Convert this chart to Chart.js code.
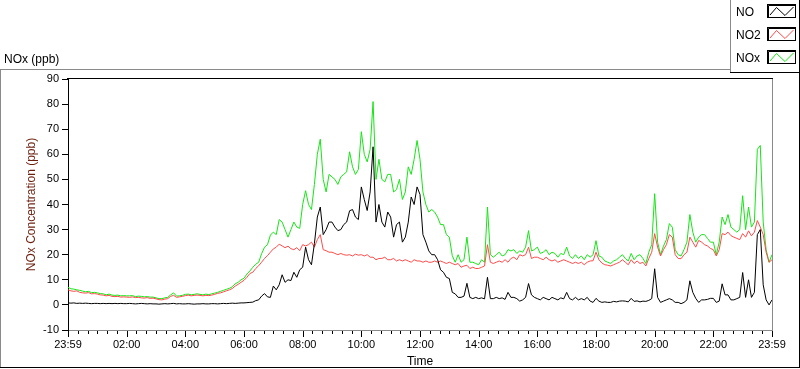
<!DOCTYPE html>
<html>
<head>
<meta charset="utf-8">
<title>NOx (ppb)</title>
<script src="https://cdn.jsdelivr.net/npm/chart.js@4.4.1/dist/chart.umd.min.js"></script>
<style>
  html, body { margin: 0; padding: 0; background: #fff; }
  #grafico { display: block; }
</style>
</head>
<body>
<canvas id="grafico" width="800" height="369"></canvas>
<script>
// one reading every 6 minutes, minute 0 = 23:59 of the previous day
const STEP_MIN = 6;

const seriesLabels = ['NO', 'NO2', 'NOx'];
const seriesColors = ['#000000', '#ff4a4a', '#14e614'];

const yMin = -10;
const yMax = 90;
const yStep = 10;

const xMin = 0;
const xMax = 1440;
const xMinorStep = 20;
const xMajorStep = 120;
const xEdgeLabel = '23:59';

const noValues = [
  0.8, 0.7, 0.8, 0.6, 0.7, 0.6, 0.7, 0.6, 0.5, 0.6,
  0.6, 0.5, 0.6, 0.5, 0.6, 0.5, 0.6, 0.5, 0.6, 0.5,
  0.5, 0.6, 0.5, 0.4, 0.5, 0.6, 0.5, 0.4, 0.5, 0.4,
  0.4, 0.3, 0.4, 0.5, 0.4, 0.5, 0.6, 0.4, 0.5, 0.4,
  0.4, 0.5, 0.4, 0.3, 0.4, 0.4, 0.5, 0.4, 0.4, 0.5,
  0.5, 0.4, 0.5, 0.6, 0.5, 0.6, 0.7, 0.6, 0.7, 0.8,
  0.8, 0.9, 1.0, 1.1, 1.7, 2.0, 3.5, 4.5, 3.2, 3.0,
  7.5, 6.0, 8.0, 12.0, 9.0, 10.0, 9.7, 13.0, 11.0, 14.0,
  15.0, 23.0, 18.0, 16.0, 24.4, 35.0, 39.0, 28.0, 30.0, 33.0,
  33.0, 31.0, 29.6, 30.0, 32.0, 33.0, 37.5, 38.0, 35.0, 34.0,
  47.0, 42.0, 37.6, 45.0, 63.0, 33.0, 40.0, 33.0, 31.0, 37.0,
  35.0, 27.0, 32.0, 33.0, 25.0, 27.0, 33.0, 43.0, 40.0, 47.0,
  44.0, 28.0, 25.0, 21.5, 20.0, 20.0, 18.0, 14.0, 13.0, 11.0,
  10.5, 5.0, 4.4, 3.0, 3.0, 3.5, 8.6, 3.0, 2.5, 3.0,
  2.5, 2.8, 2.4, 11.0, 2.5, 2.5, 3.0, 2.5, 2.8, 2.2,
  5.0, 3.0, 3.0, 2.5, 1.5, 2.0, 3.0, 8.5, 4.0, 3.0,
  2.5, 2.0, 3.0, 2.5, 2.0, 3.0, 2.5, 2.0, 2.8, 2.4,
  5.0, 2.5, 2.0, 3.0, 2.0, 2.5, 2.0, 3.0, 1.5, 1.0,
  2.6, 1.5, 1.0, 1.2, 1.0, 1.0, 1.4, 1.2, 1.5, 1.6,
  1.5, 1.2, 2.6, 1.4, 1.6, 1.2, 1.5, 1.4, 1.8, 2.5,
  14.4, 3.0, 1.0, 1.5, 2.0, 2.5, 2.0, 1.0, 1.0, 0.5,
  1.0, 2.0, 9.6, 5.0, 2.6, 1.0, 2.0, 2.0, 2.2, 2.6,
  2.6, 1.0, 1.5, 8.4, 4.0, 4.0, 2.0, 2.0, 2.5, 3.0,
  12.9, 3.0, 10.0, 3.0, 5.0, 28.0, 30.0, 8.0, 2.0, 0.0,
  2.0
];

const no2Values = [
  6.0, 5.6, 5.4, 5.6, 5.0, 4.8, 4.7, 4.9, 4.4, 4.5,
  4.3, 4.0, 3.9, 3.6, 3.8, 3.4, 3.3, 3.4, 3.1, 3.2,
  3.1, 3.0, 3.2, 2.9, 3.0, 2.8, 2.7, 2.9, 2.6, 2.7,
  2.4, 2.1, 2.0, 2.3, 2.5, 3.4, 3.8, 3.0, 3.2, 3.4,
  3.7, 3.9, 3.6, 3.8, 3.9, 3.8, 3.6, 3.8, 3.7, 3.9,
  4.2, 4.6, 4.8, 5.2, 5.6, 6.0, 6.5, 7.5, 8.2, 9.0,
  9.8, 11.0, 12.5, 13.0, 14.5, 15.6, 17.0, 18.5, 19.6, 21.0,
  22.3, 23.0, 24.2, 23.5, 22.8, 23.4, 22.4, 22.0, 22.8, 21.6,
  24.0, 23.5, 24.0, 25.0, 23.0, 26.0, 28.0, 22.0, 21.6, 21.0,
  21.0, 20.5, 20.0, 20.5, 20.0, 19.8, 20.0, 19.5, 20.2, 19.8,
  20.0, 19.5, 20.0, 19.0, 19.0, 18.0, 18.5, 18.5, 19.0, 18.0,
  18.0, 18.5, 17.5, 18.0, 17.5, 18.0, 17.5, 17.0, 18.0, 17.5,
  17.5, 17.0, 17.5, 17.0, 17.0, 17.5, 17.0, 17.5, 17.0, 16.5,
  17.0, 16.5, 16.0, 16.5, 15.0, 15.5, 15.8, 14.5, 15.0, 14.5,
  14.5, 15.0, 15.5, 24.0, 17.0, 16.5, 17.0, 17.5, 17.0, 18.0,
  17.0, 18.5, 19.0, 18.0, 20.0, 19.5, 20.0, 23.0, 18.5, 19.0,
  19.0, 18.5, 18.0, 19.0, 18.0, 17.5, 18.0, 17.0, 17.5, 18.0,
  17.5, 17.0, 16.5, 17.0, 16.5, 17.0, 16.0, 17.0, 17.5, 17.6,
  21.0, 18.0, 16.7, 16.0, 15.8, 15.5, 16.0, 16.5, 17.0, 18.0,
  17.0, 16.0, 18.0, 16.5, 17.5, 16.5, 17.0, 15.5, 18.5, 21.0,
  28.4, 23.0, 19.5, 22.0, 24.0, 28.0, 27.0, 20.0, 18.5, 18.4,
  20.0, 21.0, 27.0, 25.0, 23.0, 25.7, 25.0, 24.0, 23.5, 22.5,
  22.0, 19.5, 22.0, 28.4, 28.0, 29.0, 27.6, 27.0, 26.5, 26.0,
  28.4, 27.0, 29.5, 27.5, 29.0, 33.6, 31.0, 28.0, 21.0, 17.0,
  18.0
];

const noxValues = [
  7.0, 6.4, 6.3, 6.0, 5.8, 5.5, 5.2, 5.4, 4.9, 5.0,
  4.8, 4.5, 4.4, 4.0, 4.3, 3.9, 3.8, 3.9, 3.6, 3.7,
  3.6, 3.6, 3.7, 3.3, 3.5, 3.4, 3.2, 3.3, 3.1, 3.1,
  2.8, 2.5, 2.5, 2.8, 3.0, 4.0, 4.8, 3.5, 3.6, 3.8,
  4.2, 4.3, 4.0, 4.2, 4.4, 4.2, 4.0, 4.3, 4.1, 4.4,
  4.7, 5.0, 5.4, 5.8, 6.2, 6.6, 7.2, 8.4, 9.0, 10.0,
  10.6, 12.3, 13.5, 15.0, 16.2, 17.0, 20.4, 23.0, 24.0, 27.8,
  29.0, 28.0, 34.0, 33.0, 30.0, 27.0, 30.0, 33.0, 31.0, 30.5,
  40.0, 45.5, 40.0, 38.0, 48.0, 60.0, 66.0, 50.0, 45.0, 52.0,
  51.0, 50.0, 48.0, 51.0, 52.0, 53.0, 61.0, 55.0, 52.0, 54.0,
  69.0, 60.0, 57.0, 62.0, 81.0, 50.0, 58.0, 50.0, 49.0, 52.0,
  52.0, 45.0, 46.0, 50.0, 42.0, 45.0, 55.0, 52.0, 58.0, 65.5,
  58.0, 45.0, 40.0, 37.0, 38.0, 37.0, 35.0, 32.0, 32.0, 28.0,
  27.0, 19.6, 17.0, 20.0, 17.0, 18.0, 27.0, 17.0, 17.0, 16.5,
  16.0, 18.0, 17.0, 39.0, 20.0, 19.0, 20.0, 21.0, 19.5, 20.0,
  22.0, 21.5, 22.0, 20.5, 21.5, 21.0, 23.0, 29.6, 21.5, 22.0,
  23.0, 20.5, 21.0, 22.0, 20.0, 21.0, 20.5, 19.0, 20.5, 20.0,
  23.0, 19.5, 18.5, 20.0, 18.5, 19.5, 18.0, 20.0, 19.0, 20.0,
  25.6, 19.5, 19.0, 17.5, 17.0, 16.5, 17.5, 18.0, 19.0, 20.0,
  18.5, 17.5, 20.5, 18.0, 19.5, 20.0, 18.5, 16.5, 21.0, 24.0,
  44.3, 25.0, 20.0, 23.4, 26.0, 32.4, 31.0, 22.0, 20.0, 19.5,
  22.0, 25.0, 36.0, 29.0, 25.0, 27.0, 28.0, 28.0, 26.5, 25.0,
  25.0, 20.0, 25.0, 35.0, 32.0, 36.0, 31.0, 30.0, 29.0, 30.0,
  43.5, 30.0, 39.0, 31.0, 33.0, 62.0, 63.5, 33.0, 22.0, 17.0,
  20.0
];

const FONTE = '"Liberation Sans", Arial, sans-serif';

function pontos(valores) {
  return valores.map((v, i) => ({ x: i * STEP_MIN, y: v }));
}

function rotuloHora(valor) {
  if (valor === xMin || valor === xMax) return xEdgeLabel;
  if (valor % xMajorStep !== 0) return '';
  return String(valor / 60).padStart(2, '0') + ':00';
}

// moldura do painel, borda do grafico, ticks do eixo X e legenda
const painelPlugin = {
  id: 'painel',
  afterDraw(chart) {
    const ctx = chart.ctx;
    const area = chart.chartArea;
    const xs = chart.scales.x;
    ctx.save();

    ctx.lineWidth = 1;
    ctx.strokeStyle = '#8a8a8a';
    ctx.beginPath();
    ctx.moveTo(0, 69.5); ctx.lineTo(730, 69.5);
    ctx.moveTo(0.5, 69); ctx.lineTo(0.5, 368);
    ctx.moveTo(730.5, 0); ctx.lineTo(730.5, 72);
    ctx.moveTo(area.right + 0.5, area.top - 1); ctx.lineTo(area.right + 0.5, area.bottom);
    ctx.stroke();

    ctx.strokeStyle = '#000';
    ctx.beginPath();
    ctx.moveTo(0, 367.5); ctx.lineTo(800, 367.5);
    ctx.moveTo(799.5, 0); ctx.lineTo(799.5, 368);
    ctx.moveTo(730, 72.5); ctx.lineTo(800, 72.5);
    ctx.moveTo(area.left - 1, area.top - 0.5); ctx.lineTo(area.right + 1, area.top - 0.5);
    ctx.stroke();

    // ticks do eixo X: maiores a cada 2 h, menores a cada 20 min
    ctx.beginPath();
    for (let v = xMin; v <= xMax; v += xMinorStep) {
      const px = Math.round(xs.getPixelForValue(v)) + 0.5;
      const maior = v % xMajorStep === 0 || v === xMax;
      ctx.moveTo(px, area.bottom + 1);
      ctx.lineTo(px, area.bottom + (maior ? 7 : 4));
    }
    ctx.stroke();

    // titulo do painel
    ctx.fillStyle = '#000';
    ctx.font = '12px ' + FONTE;
    ctx.textBaseline = 'middle';
    ctx.textAlign = 'left';
    ctx.fillText('NOx (ppb)', 4, 60);

    // legenda
    chart.data.datasets.forEach((ds, i) => {
      const y0 = 4.5 + i * 23;
      ctx.fillStyle = '#000';
      ctx.fillText(ds.label, 736, y0 + 8);
      ctx.strokeStyle = '#000';
      ctx.lineWidth = 1;
      ctx.strokeRect(767.5, y0, 28, 13);
      ctx.beginPath();
      ctx.moveTo(768.5, y0 + 1); ctx.lineTo(795, y0 + 1);
      ctx.moveTo(768.5, y0 + 1); ctx.lineTo(768.5, y0 + 13);
      ctx.stroke();
      ctx.strokeStyle = ds.borderColor;
      ctx.beginPath();
      ctx.moveTo(770, y0 + 10.5);
      ctx.lineTo(776.5, y0 + 3);
      ctx.lineTo(785, y0 + 11);
      ctx.lineTo(793.5, y0 + 2.5);
      ctx.stroke();
    });

    ctx.restore();
  }
};

const serieDados = [noValues, no2Values, noxValues];

const grafico = new Chart(document.getElementById('grafico'), {
  type: 'line',
  data: {
    datasets: seriesLabels.map((nome, i) => ({
      label: nome,
      data: pontos(serieDados[i]),
      borderColor: seriesColors[i],
      backgroundColor: seriesColors[i],
      borderWidth: 1,
      pointRadius: 0,
      tension: 0,
      fill: false
    }))
  },
  options: {
    responsive: false,
    animation: false,
    layout: { padding: { top: 79, right: 28, left: 0, bottom: 0 } },
    plugins: {
      legend: { display: false },
      tooltip: { enabled: false }
    },
    scales: {
      x: {
        type: 'linear',
        min: xMin,
        max: xMax,
        afterFit(scale) { scale.height = 39; },
        afterBuildTicks(scale) {
          const ticks = [];
          for (let v = xMin; v <= xMax; v += xMinorStep) ticks.push({ value: v });
          scale.ticks = ticks;
        },
        grid: { display: false, drawTicks: false },
        border: { display: true, color: '#8a8a8a', width: 1 },
        ticks: {
          autoSkip: false,
          maxRotation: 0,
          padding: 8,
          color: '#000',
          font: { family: FONTE, size: 11 },
          callback: (valor) => rotuloHora(valor)
        },
        title: {
          display: true,
          text: 'Time',
          color: '#000',
          font: { family: FONTE, size: 12 },
          padding: { top: 0, bottom: 0 }
        }
      },
      y: {
        min: yMin,
        max: yMax,
        afterFit(scale) { scale.width = 68; },
        grid: {
          display: true,
          drawOnChartArea: false,
          drawTicks: true,
          tickLength: 6,
          color: '#000',
          tickColor: '#000'
        },
        border: { display: true, color: '#000', width: 1 },
        ticks: {
          stepSize: yStep,
          padding: 3,
          color: '#000',
          font: { family: FONTE, size: 11 }
        },
        title: {
          display: true,
          text: 'NOx Concentration (ppb)',
          color: '#6b1f0f',
          font: { family: FONTE, size: 12 },
          padding: { top: 24, bottom: 0 }
        }
      }
    }
  },
  plugins: [painelPlugin]
});
</script>
</body>
</html>
